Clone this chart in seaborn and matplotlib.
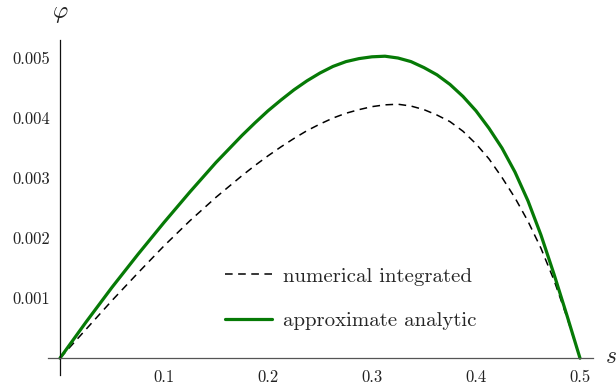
import matplotlib
matplotlib.use("Agg")
import matplotlib.pyplot as plt
import seaborn as sns
import pandas as pd

# data
s_num = [0, 0.025, 0.05, 0.075, 0.1, 0.125, 0.15, 0.175, 0.1875, 0.2, 0.2125, 0.225,
         0.2375, 0.25, 0.2625, 0.275, 0.2875, 0.3, 0.3125, 0.325, 0.3375, 0.35,
         0.3625, 0.375, 0.3875, 0.4, 0.4125, 0.425, 0.4375, 0.45, 0.4625, 0.475,
         0.4875, 0.5]
phi_num = [0, 0.00048, 0.00096, 0.00142, 0.00187, 0.00229, 0.00268, 0.00304, 0.00321,
           0.00337, 0.00352, 0.00366, 0.00379, 0.00390, 0.00400, 0.00408, 0.00414,
           0.00419, 0.00422, 0.00423, 0.00420, 0.00414, 0.00405, 0.00394, 0.00378,
           0.00357, 0.00332, 0.00301, 0.00267, 0.00228, 0.00183, 0.00130, 0.00068, 0]

s_ana = [0, 0.025, 0.05, 0.075, 0.1, 0.125, 0.15, 0.175, 0.1875, 0.2, 0.2125, 0.225,
         0.2375, 0.25, 0.2625, 0.275, 0.2875, 0.3, 0.3125, 0.325, 0.3375, 0.35,
         0.3625, 0.375, 0.3875, 0.4, 0.4125, 0.425, 0.4375, 0.45, 0.4625, 0.475,
         0.4875, 0.5]
phi_ana = [0, 0.00060, 0.00118, 0.00173, 0.00226, 0.00277, 0.00326, 0.00371, 0.00392,
           0.00412, 0.00430, 0.00447, 0.00462, 0.00475, 0.00486, 0.00494, 0.00499,
           0.00502, 0.00503, 0.00500, 0.00494, 0.00484, 0.00472, 0.00456, 0.00436,
           0.00412, 0.00383, 0.00350, 0.00310, 0.00262, 0.00205, 0.00140, 0.00071, 0]

x_ticks = [0.1, 0.2, 0.3, 0.4, 0.5]
x_labels = ["0.1", "0.2", "0.3", "0.4", "0.5"]
y_ticks = [0.001, 0.002, 0.003, 0.004, 0.005]
y_labels = ["0.001", "0.002", "0.003", "0.004", "0.005"]
series_names = ["numerical integrated", "approximate analytic"]

sns.set_style("white")
plt.rcParams["font.family"] = ["cmr10", "DejaVu Serif"]
plt.rcParams["mathtext.fontset"] = "cm"
plt.rcParams["axes.unicode_minus"] = False

W, H = 616, 386
fig = plt.figure(figsize=(W / 100, H / 100), dpi=100)
ax = fig.add_axes([48 / W, 1 - 375 / H, (593 - 48) / W, (375 - 40) / H])

df_num = pd.DataFrame({"s": s_num, "phi": phi_num})
df_ana = pd.DataFrame({"s": s_ana, "phi": phi_ana})

sns.lineplot(data=df_num, x="s", y="phi", ax=ax, color="black", lw=1.1,
             sort=False, label=series_names[0])
ax.lines[-1].set_dashes([5, 3.6])
sns.lineplot(data=df_ana, x="s", y="phi", ax=ax, color="#067a06", lw=2.3,
             sort=False, label=series_names[1])
for ln in ax.lines:
    ln.set_solid_joinstyle("round")
    ln.set_dash_joinstyle("round")

ax.set_xlim(-0.0115, 0.5125)
ax.set_ylim(-0.00028, 0.0053)

for side in ["top", "right"]:
    ax.spines[side].set_visible(False)
ax.spines["left"].set_position(("data", 0))
ax.spines["bottom"].set_position(("data", 0))
ax.spines["left"].set_color("#111111")
ax.spines["bottom"].set_color("#555555")
ax.spines["left"].set_linewidth(0.9)
ax.spines["bottom"].set_linewidth(0.9)

ax.set_xticks(x_ticks)
ax.set_xticklabels(x_labels)
ax.set_yticks(y_ticks)
ax.set_yticklabels(y_labels)
ax.tick_params(axis="both", direction="in", length=4, width=0.8, color="#666666",
               labelsize=12, labelcolor="#222222")
ax.tick_params(axis="x", pad=8)
ax.tick_params(axis="y", pad=7)
ax.set_xlabel("")
ax.set_ylabel("")

fig.text(60 / W, 1 - 14 / H, r"$\varphi$", fontsize=17, ha="center", va="center")
fig.text(605 / W, 1 - 357 / H, r"$s$", fontsize=17, ha="left", va="center")

ax.legend(loc="upper left", bbox_to_anchor=(225 / W, 1 - 267 / H),
          bbox_transform=fig.transFigure, frameon=False, fontsize=15,
          handlelength=2.25, handletextpad=0.55, labelspacing=1.25,
          borderpad=0, borderaxespad=0)

fig.savefig("out.png", dpi=100)
